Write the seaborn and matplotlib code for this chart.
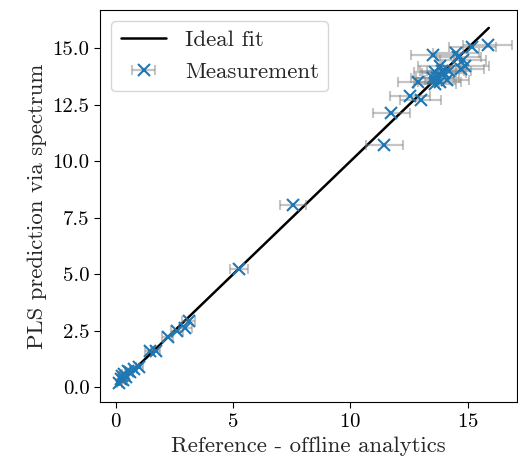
import matplotlib
matplotlib.use("Agg")
import matplotlib.pyplot as plt
import seaborn as sns

# reference (offline analytics) vs. PLS prediction
ref_vals = [0.15, 0.2, 0.25, 0.3, 0.35, 0.45, 0.5, 0.6, 0.75, 1.0,
            1.45, 1.7, 2.2, 2.6, 2.95, 3.1, 5.25, 7.55, 11.45, 11.75,
            12.55, 13.0, 12.9, 13.6, 13.5, 13.7, 13.6, 14.0, 13.8, 14.2,
            14.9, 14.8, 13.5, 14.5, 15.2, 15.85, 13.8, 13.9, 14.1, 14.7, 14.6]
pls_vals = [0.2, 0.35, 0.5, 0.3, 0.6, 0.45, 0.7, 0.65, 0.8, 0.9,
            1.6, 1.6, 2.2, 2.5, 2.6, 2.95, 5.25, 8.05, 10.7, 12.15,
            12.9, 12.7, 13.5, 13.4, 13.7, 13.7, 13.95, 13.9, 14.2, 14.0,
            14.2, 14.5, 14.7, 14.8, 15.05, 15.15, 13.5, 14.0, 13.6, 14.1, 14.6]
ref_err = [0.1, 0.1, 0.1, 0.1, 0.1, 0.12, 0.12, 0.13, 0.14, 0.16,
           0.19, 0.2, 0.23, 0.26, 0.28, 0.29, 0.4, 0.55, 0.78, 0.8,
           0.85, 0.88, 0.87, 0.9, 0.9, 0.92, 0.9, 0.94, 0.92, 0.95,
           0.99, 0.98, 0.9, 0.97, 1.0, 1.05, 0.92, 0.93, 0.94, 0.98, 0.97]
fit_x = [0.1, 15.9]
fit_y = [0.1, 15.9]

sns.set_theme(style="ticks")
plt.rcParams['font.family'] = ['cmr10', 'DejaVu Sans']
plt.rcParams['mathtext.fontset'] = 'cm'
plt.rcParams['axes.formatter.use_mathtext'] = True
plt.rcParams['axes.edgecolor'] = 'black'
plt.rcParams['xtick.color'] = 'black'
plt.rcParams['ytick.color'] = 'black'
plt.rcParams['axes.unicode_minus'] = False

fig = plt.figure(figsize=(5.18, 4.67), dpi=100)
ax = fig.add_axes([0.193, 0.139, 0.805, 0.84])

sns.lineplot(x=fit_x, y=fit_y, color='black', linewidth=1.8, label='Ideal fit', ax=ax)
ax.errorbar(ref_vals, pls_vals, xerr=ref_err, fmt='x', color='#1f77b4',
            ecolor=(0.5, 0.5, 0.5, 0.45), elinewidth=1.6, capsize=3.5,
            markersize=9, markeredgewidth=1.5, label='Measurement')

ax.set_xlim(-0.68, 17.1)
ax.set_ylim(-0.66, 16.7)
ax.set_xticks([0, 5, 10, 15])
ax.set_yticks([0, 2.5, 5, 7.5, 10, 12.5, 15])
ax.set_yticklabels(['0.0', '2.5', '5.0', '7.5', '10.0', '12.5', '15.0'])
ax.tick_params(labelsize=15, length=4, width=0.8)
ax.set_xlabel('Reference - offline analytics', fontsize=16.4)
ax.set_ylabel('PLS prediction via spectrum', fontsize=16.4)
for s in ax.spines.values():
    s.set_linewidth(0.8)
ax.legend(loc='upper left', fontsize=16.5, frameon=True)

fig.savefig('out.png', dpi=100)
